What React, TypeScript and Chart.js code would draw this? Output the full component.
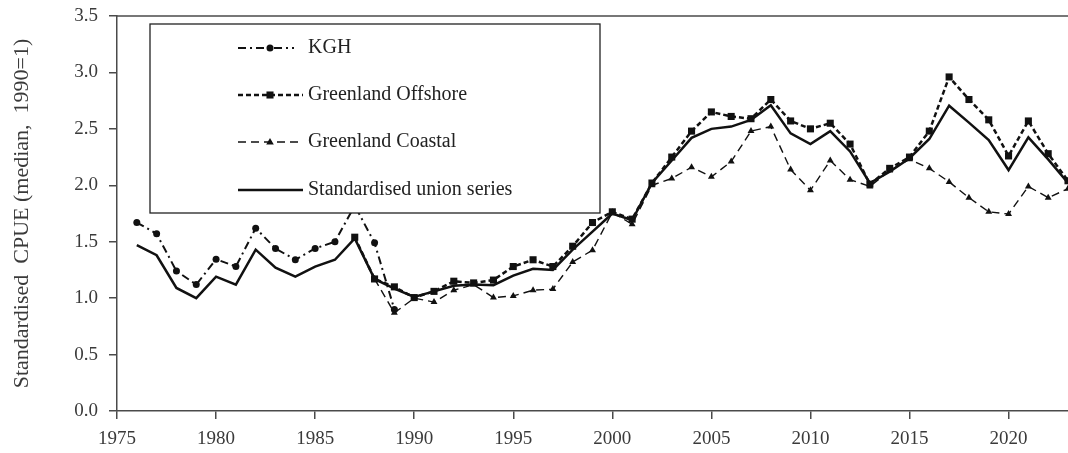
import React, { useEffect, useRef } from 'react';
import { Chart, registerables } from 'chart.js';

Chart.register(...registerables);

// ---------- DATA ----------
const years = [
  1976, 1977, 1978, 1979, 1980, 1981, 1982, 1983, 1984, 1985,
  1986, 1987, 1988, 1989, 1990, 1991, 1992, 1993, 1994, 1995,
  1996, 1997, 1998, 1999, 2000, 2001, 2002, 2003, 2004, 2005,
  2006, 2007, 2008, 2009, 2010, 2011, 2012, 2013, 2014, 2015,
  2016, 2017, 2018, 2019, 2020, 2021, 2022, 2023,
];

const kgh = [
  1.67, 1.57, 1.24, 1.12, 1.345, 1.28, 1.62, 1.44, 1.34, 1.44,
  1.50, 1.82, 1.49, 0.90, null, null, null, null, null, null,
  null, null, null, null, null, null, null, null, null, null,
  null, null, null, null, null, null, null, null, null, null,
  null, null, null, null, null, null, null, null,
];

const offshore = [
  null, null, null, null, null, null, null, null, null, null,
  null, 1.54, 1.17, 1.10, 1.005, 1.06, 1.15, 1.135, 1.16, 1.28,
  1.34, 1.28, 1.46, 1.67, 1.765, 1.70, 2.02, 2.25, 2.48, 2.65,
  2.61, 2.59, 2.76, 2.57, 2.50, 2.55, 2.365, 2.01, 2.15, 2.25,
  2.48, 2.96, 2.76, 2.58, 2.26, 2.57, 2.28, 2.04,
];

const coastal = [
  null, null, null, null, null, null, null, null, null, null,
  null, null, 1.17, 0.87, 1.00, 0.965, 1.07, 1.12, 1.005, 1.02,
  1.07, 1.08, 1.32, 1.425, 1.76, 1.655, 2.00, 2.06, 2.16, 2.075,
  2.21, 2.48, 2.52, 2.14, 1.955, 2.22, 2.05, 1.99, 2.13, 2.23,
  2.15, 2.03, 1.89, 1.765, 1.745, 1.99, 1.89, 1.97,
];

const union = [
  1.47, 1.38, 1.09, 1.00, 1.19, 1.12, 1.43, 1.27, 1.19, 1.28,
  1.34, 1.53, 1.17, 1.085, 1.01, 1.06, 1.11, 1.12, 1.115, 1.20,
  1.26, 1.25, 1.43, 1.59, 1.75, 1.69, 2.02, 2.22, 2.42, 2.50,
  2.52, 2.58, 2.71, 2.46, 2.365, 2.48, 2.30, 2.02, 2.12, 2.24,
  2.41, 2.705, 2.555, 2.40, 2.135, 2.425, 2.23, 2.02,
];

const xTickValues = [1975, 1980, 1985, 1990, 1995, 2000, 2005, 2010, 2015, 2020];
const yTickValues = [0, 0.5, 1.0, 1.5, 2.0, 2.5, 3.0, 3.5];

const seriesLabels = ['KGH', 'Greenland Offshore', 'Greenland Coastal', 'Standardised union series'];
const yTitle = 'Standardised  CPUE (median,  1990=1)';

// ---------- STYLES ----------
const INK = '#111111';
const AXIS = '#4a4a4a';
const TEXT = '#3a3a3a';
const SERIF = '"Liberation Serif", "Times New Roman", serif';

const toPoints = (vals: (number | null)[]) =>
  years.map((y, i) => ({ x: y, y: vals[i] }));

const styles = [
  { dash: [8, 4, 2, 4], width: 2, point: 'circle', radius: 3.5 },
  { dash: [5, 3], width: 2.5, point: 'rect', radius: 5 },
  { dash: [8, 5], width: 1.4, point: 'triangle', radius: 4 },
  { dash: [], width: 2.5, point: false as any, radius: 0 },
];

function drawMarker(ctx: CanvasRenderingContext2D, kind: any, x: number, y: number, r: number) {
  if (!kind) return;
  ctx.save();
  ctx.setLineDash([]);
  ctx.fillStyle = INK;
  ctx.beginPath();
  if (kind === 'circle') {
    ctx.arc(x, y, r, 0, Math.PI * 2);
  } else if (kind === 'rect') {
    const s = r * Math.SQRT1_2;
    ctx.rect(x - s, y - s, 2 * s, 2 * s);
  } else if (kind === 'triangle') {
    ctx.moveTo(x, y - r);
    ctx.lineTo(x + r * 0.95, y + r * 0.6);
    ctx.lineTo(x - r * 0.95, y + r * 0.6);
    ctx.closePath();
  }
  ctx.fill();
  ctx.restore();
}

const framePlugin = {
  id: 'frameAndLegend',
  afterDatasetsDraw(chart: any) {
    const { ctx, chartArea } = chart;
    ctx.save();
    // top border of plot
    ctx.strokeStyle = AXIS;
    ctx.lineWidth = 1.5;
    ctx.beginPath();
    ctx.moveTo(chartArea.left, chartArea.top);
    ctx.lineTo(chartArea.right, chartArea.top);
    ctx.stroke();

    // legend box
    const bx = 150, by = 24, bw = 450, bh = 189;
    ctx.fillStyle = '#ffffff';
    ctx.fillRect(bx, by, bw, bh);
    ctx.strokeStyle = '#222';
    ctx.lineWidth = 1.3;
    ctx.strokeRect(bx, by, bw, bh);

    const rowY = [48, 95, 142, 190];
    seriesLabels.forEach((label, i) => {
      const st = styles[i];
      const y = rowY[i];
      const x0 = 238;
      const x1 = i === 0 ? 294 : 303;
      ctx.save();
      ctx.strokeStyle = INK;
      ctx.lineWidth = st.width;
      ctx.setLineDash(st.dash);
      ctx.beginPath();
      ctx.moveTo(x0, y);
      ctx.lineTo(x1, y);
      ctx.stroke();
      ctx.restore();
      drawMarker(ctx, st.point, 270, y, st.radius);
      ctx.fillStyle = '#222';
      ctx.font = `20px ${SERIF}`;
      ctx.textBaseline = 'middle';
      ctx.textAlign = 'left';
      ctx.fillText(label, 308, y);
    });
    ctx.restore();
  },
};

export default function App() {
  const canvasRef = useRef<HTMLCanvasElement | null>(null);

  useEffect(() => {
    if (!canvasRef.current) return;
    const seriesData = [kgh, offshore, coastal, union];
    const drawOrder = [2, 1, 3, 0];
    const chart = new Chart(canvasRef.current, {
      type: 'line',
      data: {
        datasets: seriesData.map((vals, i) => ({
          label: seriesLabels[i],
          data: toPoints(vals),
          borderColor: INK,
          backgroundColor: INK,
          borderWidth: styles[i].width,
          borderDash: styles[i].dash,
          pointStyle: styles[i].point,
          pointRadius: styles[i].radius,
          pointBorderWidth: 0,
          pointBackgroundColor: INK,
          tension: 0,
          fill: false,
          spanGaps: false,
          order: drawOrder[i],
          clip: false as any,
        })),
      },
      options: {
        animation: false,
        responsive: false,
        devicePixelRatio: 1,
        layout: { autoPadding: false, padding: { top: 16, right: 0, left: 0, bottom: 0 } },
        plugins: {
          legend: { display: false },
          tooltip: { enabled: false },
        },
        scales: {
          x: {
            type: 'linear',
            min: 1975,
            max: 2023,
            afterBuildTicks: (scale: any) => {
              scale.ticks = xTickValues.map((v) => ({ value: v }));
            },
            afterFit: (scale: any) => {
              scale.height = 42;
              scale.paddingLeft = 0;
              scale.paddingRight = 0;
            },
            ticks: {
              color: TEXT,
              font: { family: SERIF, size: 19 },
              padding: 9,
              maxRotation: 0,
              autoSkip: false,
              callback: (v: any) => String(v),
            },
            grid: {
              drawOnChartArea: false,
              drawTicks: true,
              tickLength: 8,
              color: AXIS,
              lineWidth: 1.5,
            },
            border: { display: true, color: AXIS, width: 1.5 },
          },
          y: {
            type: 'linear',
            min: 0,
            max: 3.5,
            afterBuildTicks: (scale: any) => {
              scale.ticks = yTickValues.map((v) => ({ value: v }));
            },
            afterFit: (scale: any) => {
              scale.width = 117;
              scale.paddingTop = 0;
              scale.paddingBottom = 0;
            },
            ticks: {
              color: TEXT,
              font: { family: SERIF, size: 19 },
              padding: 11,
              callback: (v: any) => Number(v).toFixed(1),
            },
            grid: {
              drawOnChartArea: false,
              drawTicks: true,
              tickLength: 8,
              color: AXIS,
              lineWidth: 1.5,
            },
            border: { display: true, color: AXIS, width: 1.5 },
            title: {
              display: true,
              text: yTitle,
              color: TEXT,
              font: { family: SERIF, size: 22 },
              padding: { top: 9, bottom: 0 },
            },
          },
        },
      },
      plugins: [framePlugin],
    });
    return () => chart.destroy();
  }, []);

  return (
    <div style={{ position: 'absolute', left: 0, top: 0, width: 1068, height: 453, background: '#fff' }}>
      <canvas ref={canvasRef} width={1068} height={453} style={{ display: 'block', width: 1068, height: 453 }} />
    </div>
  );
}
